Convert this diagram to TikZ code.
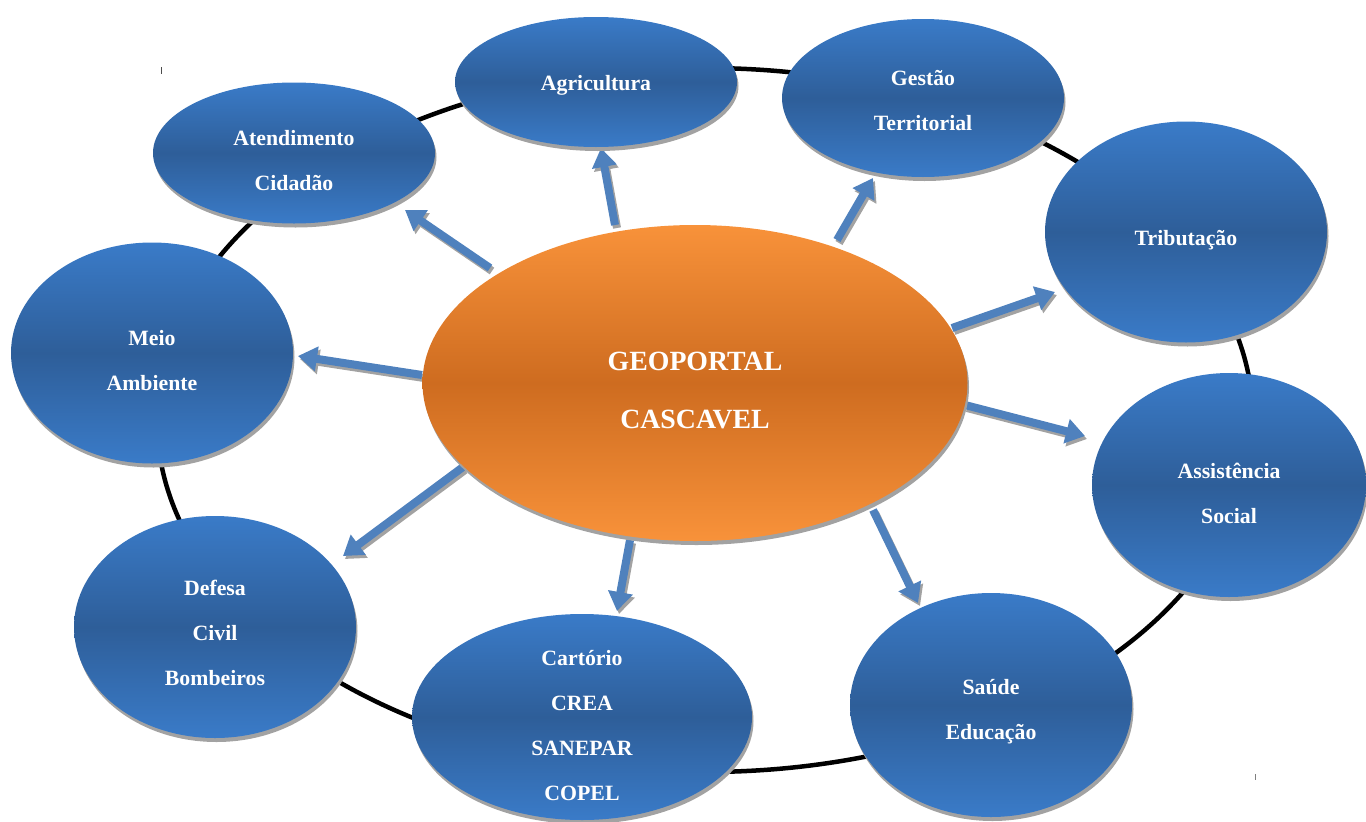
\documentclass[tikz,border=0pt]{standalone}
\usepackage{fontspec}
\setmainfont{Liberation Serif}
\usetikzlibrary{arrows.meta,shadows,shapes.geometric}
\definecolor{bluetop}{RGB}{58,123,200}
\definecolor{bluemid}{RGB}{46,94,153}
\definecolor{orangetop}{RGB}{248,146,58}
\definecolor{orangemid}{RGB}{206,108,32}
\definecolor{arrowblue}{RGB}{79,129,189}
\definecolor{shadowgray}{RGB}{162,162,162}
\begin{document}
\begin{tikzpicture}[x=1pt,y=-1pt,
  shad/.style={drop shadow={shadow xshift=1.5pt, shadow yshift=-4pt, fill=shadowgray, opacity=1}},
  sat/.style={ellipse, inner sep=0pt, shad, top color=bluetop, bottom color=bluetop, middle color=bluemid},
  hub/.style={ellipse, inner sep=0pt, shad, top color=orangetop, bottom color=orangetop, middle color=orangemid},
  lbl/.style={text=white, align=center, font=\bfseries\fontsize{21.8}{45}\selectfont, inner sep=0pt},
  hublbl/.style={text=white, align=center, font=\bfseries\fontsize{27.8}{58}\selectfont, inner sep=0pt},
  ring/.style={line width=4.5pt, black},
  blockarrow/.style={line width=8pt, arrowblue, -{Triangle[width=24pt,length=19pt]}},
  blockshadow/.style={line width=8pt, shadowgray, -{Triangle[width=24pt,length=19pt]}},
  tick/.style={line width=1pt, black!70}
]
\useasboundingbox (0,0) rectangle (1366,822);
% ring
\draw[ring] (705,420) ellipse [x radius=548pt, y radius=352pt];
% arrow end points
\coordinate (s1) at (490,268); \coordinate (e1) at (405,210);
\coordinate (s2) at (615,225); \coordinate (e2) at (601,148);
\coordinate (s3) at (837,240); \coordinate (e3) at (873,178);
\coordinate (s4) at (952,328); \coordinate (e4) at (1055,292);
\coordinate (s5) at (965,405); \coordinate (e5) at (1085,436);
\coordinate (s6) at (873,510); \coordinate (e6) at (918,603);
\coordinate (s7) at (630,540); \coordinate (e7) at (617,611);
\coordinate (s8) at (463,467); \coordinate (e8) at (343,556);
\coordinate (s9) at (422,375); \coordinate (e9) at (298,356);
% arrows
\foreach \i in {1,...,9} {
  \draw[blockshadow] ([shift={(2,3)}]s\i) -- ([shift={(2,3)}]e\i);
  \draw[blockarrow] (s\i) -- (e\i);
}
% satellites
\node[sat, minimum width=282pt, minimum height=141pt] (aten) at (294,153) {};
\node[sat, minimum width=282pt, minimum height=130pt] (agri) at (596,82) {};
\node[sat, minimum width=282pt, minimum height=158pt] (gest) at (923,98) {};
\node[sat, minimum width=282pt, minimum height=221pt] (trib) at (1186,232) {};
\node[sat, minimum width=274pt, minimum height=224pt] (assi) at (1229,485) {};
\node[sat, minimum width=282pt, minimum height=224pt] (saud) at (991,705) {};
\node[sat, minimum width=340pt, minimum height=206pt] (cart) at (582,717) {};
\node[sat, minimum width=282pt, minimum height=222pt] (defe) at (215,627) {};
\node[sat, minimum width=282pt, minimum height=221pt] (meio) at (152,353) {};
\node[hub, minimum width=545pt, minimum height=316pt] (geo) at (695,383) {};
% labels
\node[lbl] at ([yshift=-8pt]aten.center) {Atendimento\\Cidadão};
\node[lbl] at ([yshift=-3pt]agri.center) {Agricultura};
\node[lbl] at ([yshift=-3pt]gest.center) {Gestão\\Territorial};
\node[lbl] at ([yshift=-8pt]trib.center) {Tributação};
\node[lbl] at ([yshift=-8pt]assi.center) {Assistência\\Social};
\node[lbl] at ([yshift=-7pt]saud.center) {Saúde\\Educação};
\node[lbl] at ([yshift=-9pt]cart.center) {Cartório\\CREA\\SANEPAR\\COPEL};
\node[lbl] at ([yshift=-6pt]defe.center) {Defesa\\Civil\\Bombeiros};
\node[lbl] at ([yshift=-8pt]meio.center) {Meio\\Ambiente};
\node[hublbl] at ([yshift=-8pt]geo.center) {GEOPORTAL\\CASCAVEL};
% small marks
\draw[tick] (161,67) -- (161,74);
\draw[tick, black!50] (1255,774) -- (1255,780);
\end{tikzpicture}
\end{document}
